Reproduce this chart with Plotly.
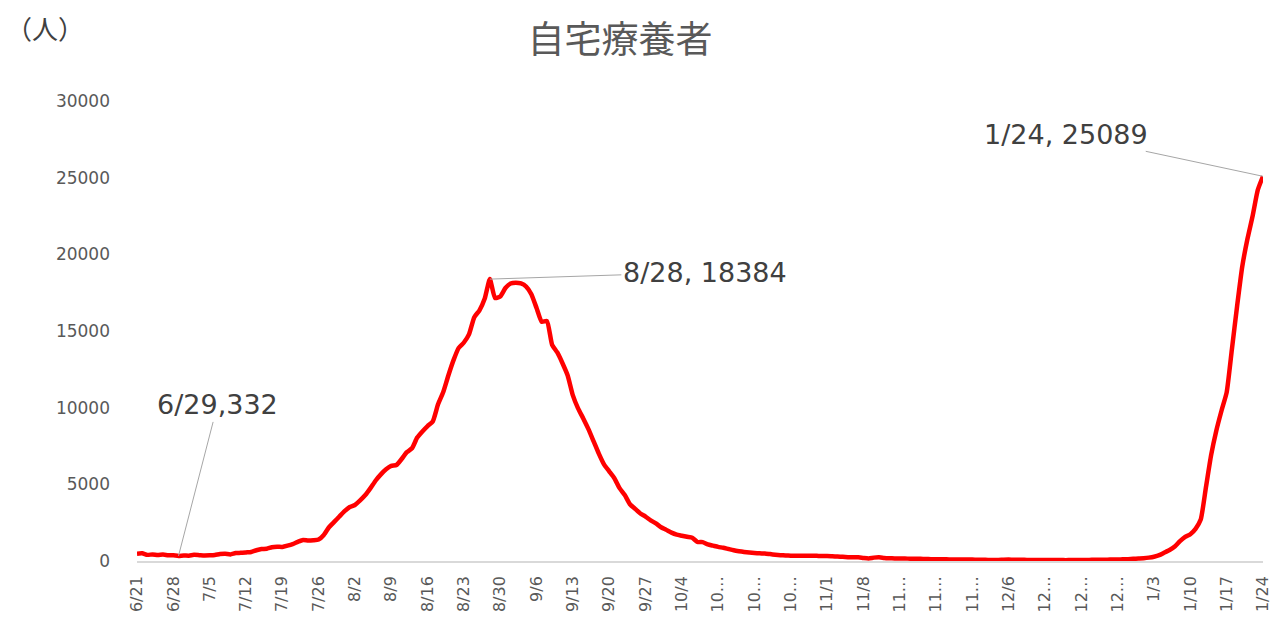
import pandas as pd
import plotly.graph_objects as go

# Daily number of people recuperating at home, 2021-06-21 .. 2022-01-24
start_date = "2021-06-21"
home_care = [
    480, 500, 400, 430, 390, 420, 380,            # 6/21 - 6/27
    370, 332, 360, 350, 400, 380, 360,            # 6/28 - 7/4
    370, 390, 450, 470, 430, 520, 530,            # 7/5 - 7/11
    560, 590, 700, 780, 800, 900, 930,            # 7/12 - 7/18
    920, 1000, 1100, 1250, 1370, 1330, 1350,      # 7/19 - 7/25
    1400, 1700, 2200, 2550, 2900, 3250, 3520,     # 7/26 - 8/1
    3650, 3950, 4300, 4750, 5250, 5650, 5980,     # 8/2 - 8/8
    6200, 6260, 6650, 7100, 7350, 8050, 8450,     # 8/9 - 8/15
    8800, 9100, 10200, 11000, 12100, 13100, 13900,  # 8/16 - 8/22
    14250, 14800, 15900, 16350, 17100, 18384, 17150,  # 8/23 - 8/29
    17250, 17800, 18100, 18150, 18100, 17900, 17400,  # 8/30 - 9/5
    16500, 15600, 15650, 14100, 13600, 12900, 12100,  # 9/6 - 9/12
    10800, 9950, 9300, 8600, 7800, 7000, 6300,    # 9/13 - 9/19
    5850, 5400, 4750, 4300, 3700, 3400, 3100,     # 9/20 - 9/26
    2900, 2650, 2450, 2200, 2030, 1850, 1720,     # 9/27 - 10/3
    1650, 1580, 1520, 1240, 1230, 1080, 1000,     # 10/4 - 10/10
    920, 860, 780, 700, 640, 590, 550,            # 10/11 - 10/17
    520, 500, 490, 450, 410, 380, 360,            # 10/18 - 10/24
    350, 350, 350, 340, 350, 340, 320,            # 10/25 - 10/31
    330, 310, 290, 270, 250, 240, 240,            # 11/1 - 11/7
    200, 170, 220, 240, 200, 180, 170,            # 11/8 - 11/14
    160, 160, 150, 150, 140, 130, 120,            # 11/15 - 11/21
    120, 110, 110, 100, 100, 90, 90,              # 11/22 - 11/28
    90, 85, 80, 70, 65, 70, 85,                   # 11/29 - 12/5
    90, 85, 80, 75, 70, 70, 65,                   # 12/6 - 12/12
    65, 70, 65, 60, 55, 60, 65,                   # 12/13 - 12/19
    70, 70, 75, 75, 80, 85, 95,                   # 12/20 - 12/26
    100, 110, 120, 140, 160, 180, 220,            # 12/27 - 1/2
    280, 380, 550, 720, 950, 1300, 1570,          # 1/3 - 1/9
    1750, 2100, 2700, 4800, 6900, 8500, 9800,     # 1/10 - 1/16
    11000, 13800, 16600, 19200, 21000, 22500, 24200,  # 1/17 - 1/23
    25089,                                        # 1/24
]
dates = pd.date_range(start_date, periods=len(home_care), freq="D")

# Weekly category labels (long ones are cut short with an ellipsis)
tick_labels = [
    "6/21", "6/28", "7/5", "7/12", "7/19", "7/26", "8/2", "8/9", "8/16",
    "8/23", "8/30", "9/6", "9/13", "9/20", "9/27", "10/4", "10…", "10…",
    "10…", "11/1", "11/8", "11…", "11…", "11…", "12/6", "12…", "12…",
    "12…", "1/3", "1/10", "1/17", "1/24",
]
tick_dates = dates[::7]

# Callout points: (date, text, label offset x, label offset y)
callouts = [
    ("2021-06-29", "6/29,332", 39, -151),
    ("2021-08-28", "8/28, 18384", 215, -7),
    ("2022-01-24", "1/24, 25089", -197, -42),
]

value_of = dict(zip(dates.strftime("%Y-%m-%d"), home_care))

LATIN = "DejaVu Sans, Noto Sans CJK JP, sans-serif"
CJK = "Noto Sans CJK JP, sans-serif"

fig = go.Figure()
fig.add_trace(go.Scatter(
    x=dates,
    y=home_care,
    mode="lines",
    line=dict(color="#FF0000", width=4.5, shape="spline", smoothing=0.5),
    hoverinfo="x+y",
    showlegend=False,
))

annotations = []
for d, text, ax, ay in callouts:
    annotations.append(dict(
        x=d, y=value_of[d], xref="x", yref="y",
        text=text, showarrow=True, arrowhead=0, arrowwidth=1,
        arrowcolor="#A6A6A6", ax=ax, ay=ay,
        font=dict(family=LATIN, size=27, color="#404040"),
    ))

# Unit label at the top-left corner
annotations.append(dict(
    x=-0.0817, y=1.1587, xref="paper", yref="paper",
    text="（人）", showarrow=False, xanchor="center", yanchor="middle",
    font=dict(family=CJK, size=26, color="#404040"),
))

fig.update_layout(
    width=1287, height=618,
    margin=dict(l=137, r=24, t=101, b=57),
    paper_bgcolor="white", plot_bgcolor="white",
    title=dict(
        text="自宅療養者",
        x=620 / 1287, xref="container", xanchor="center",
        y=1 - 40 / 618, yref="container", yanchor="middle",
        font=dict(family=CJK, size=37, color="#595959"),
    ),
    annotations=annotations,
    showlegend=False,
)

fig.update_xaxes(
    range=[dates[0], dates[-1]],
    tickmode="array", tickvals=tick_dates, ticktext=tick_labels,
    tickangle=-90,
    tickfont=dict(family=LATIN, size=16, color="#595959"),
    showgrid=False, zeroline=False,
    showline=True, linecolor="#D9D9D9", linewidth=1.5,
    ticks="", ticklabelstandoff=7, automargin=False,
)
fig.update_yaxes(
    range=[0, 30000], dtick=5000, tickformat="d",
    tickfont=dict(family=LATIN, size=17, color="#595959"),
    showgrid=False, zeroline=False, showline=False,
    ticks="", ticklabelstandoff=26, automargin=False,
)

fig.write_html("out.html")
